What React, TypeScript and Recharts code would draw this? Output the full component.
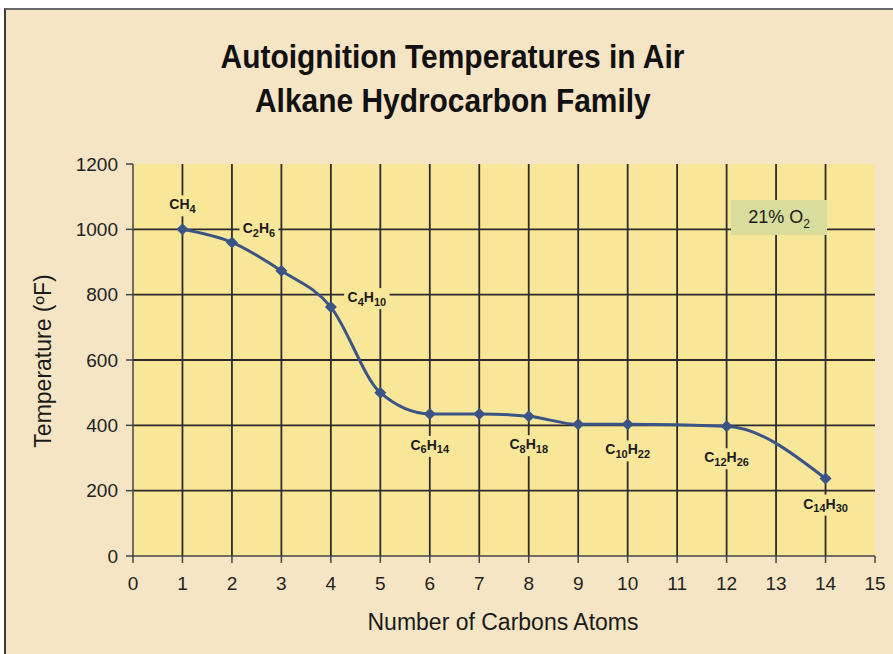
import { LineChart, Line, XAxis, YAxis, CartesianGrid, LabelList } from "recharts";

// carbon count vs autoignition temperature (ºF)
const carbons = [1, 2, 3, 4, 5, 6, 7, 8, 9, 10, 12, 14];
const tempsF = [1000, 960, 873, 762, 500, 435, 435, 428, 403, 403, 397, 237];
const formulas = ["CH4", "C2H6", "", "C4H10", "", "C6H14", "", "C8H18", "", "C10H22", "C12H26", "C14H30"];

const xTicks = [0, 1, 2, 3, 4, 5, 6, 7, 8, 9, 10, 11, 12, 13, 14, 15];
const yTicks = [0, 200, 400, 600, 800, 1000, 1200];
const xGrid = [1, 2, 3, 4, 5, 6, 7, 8, 9, 10, 11, 12, 13, 14];
const yGrid = [200, 400, 600, 800, 1000];

const data = carbons.map((c, i) => ({ c, t: tempsF[i], formula: formulas[i] }));

const PAGE_BG = "#f5e5c4";
const PLOT_BG = "#f9e799";
const LINE = "#3b5486";
const INK = "#1a1a1a";
const SANS = "'Liberation Sans', Arial, sans-serif";

// where each formula label sits relative to its point
const placement: Record<string, { dx: number; dy: number }> = {
  CH4: { dx: 0, dy: -24 },
  C2H6: { dx: 27, dy: -13 },
  C4H10: { dx: 36, dy: -9 },
  C6H14: { dx: 0, dy: 32 },
  C8H18: { dx: 0, dy: 29 },
  C10H22: { dx: 0, dy: 26 },
  C12H26: { dx: 0, dy: 32 },
  C14H30: { dx: 0, dy: 26 },
};

function Formula({ text, size }: { text: string; size: number }) {
  const parts = text.split(/(\d+)/).filter(Boolean);
  const sub = Math.round(size * 0.75);
  let shifted = false;
  return (
    <>
      {parts.map((p, i) => {
        const isNum = /^\d+$/.test(p);
        let dy = 0;
        if (isNum && !shifted) { dy = size * 0.25; shifted = true; }
        else if (!isNum && shifted) { dy = -size * 0.25; shifted = false; }
        return (
          <tspan key={i} dy={dy} fontSize={isNum ? sub : size}>
            {p}
          </tspan>
        );
      })}
    </>
  );
}

function FormulaLabel(props: any) {
  const { x, y, value } = props;
  if (!value) return null;
  const p = placement[value] || { dx: 0, dy: 0 };
  const cx = x + p.dx;
  const cy = y + p.dy;
  const w = value.replace(/\d/g, "").length * 11 + (value.match(/\d/g) || []).length * 6.5 + 4;
  return (
    <g>
      <rect x={cx - w / 2} y={cy - 10} width={w} height={21} fill={PLOT_BG} />
      <text x={cx} y={cy + 4} textAnchor="middle" fontFamily={SANS} fontWeight="bold" fill={INK}>
        <Formula text={value} size={14} />
      </text>
    </g>
  );
}

function Diamond(props: any) {
  const { cx, cy } = props;
  const r = 6;
  return <polygon points={`${cx},${cy - r} ${cx + r},${cy} ${cx},${cy + r} ${cx - r},${cy}`} fill={LINE} />;
}

const condensed = (sx: number) => ({ display: "inline-block", transform: `scaleX(${sx})` });

export default function App() {
  return (
    <div style={{ position: "absolute", top: 0, left: 0, width: 893, height: 654, background: "#fff" }}>
      <div
        style={{
          position: "absolute", left: 4, top: 8, width: 889, height: 646, background: PAGE_BG,
          borderLeft: "2px solid #3a3a3a", borderTop: "2px solid #6a6a6a", boxSizing: "border-box",
        }}
      />
      <div style={{ position: "absolute", left: 0, top: 0 }}>
        <LineChart width={893} height={654} data={data} margin={{ top: 164, right: 18, bottom: 68, left: 73 }}>
          <CartesianGrid
            fill={PLOT_BG}
            stroke="#2b2b2b"
            strokeWidth={1.8}
            horizontalValues={yGrid}
            verticalValues={xGrid}
          />
          <XAxis
            dataKey="c"
            type="number"
            domain={[0, 15]}
            ticks={xTicks}
            interval={0}
            height={30}
            tickSize={7}
            tickMargin={14}
            stroke="#444"
            strokeWidth={1.5}
            tick={{ fill: "#222", fontSize: 19, fontFamily: SANS }}
          />
          <YAxis
            dataKey="t"
            type="number"
            domain={[0, 1200]}
            ticks={yTicks}
            interval={0}
            width={60}
            tickSize={7}
            tickMargin={8}
            stroke="#444"
            strokeWidth={1.5}
            tick={{ fill: "#222", fontSize: 19, fontFamily: SANS }}
          />
          <Line
            dataKey="t"
            type="monotone"
            stroke={LINE}
            strokeWidth={3}
            dot={<Diamond />}
            activeDot={false}
            isAnimationActive={false}
          >
            <LabelList dataKey="formula" content={FormulaLabel} />
          </Line>
        </LineChart>
      </div>

      <div
        style={{
          position: "absolute", top: 34, left: 0, width: 906, textAlign: "center",
          fontFamily: SANS, fontWeight: "bold", fontSize: 34, lineHeight: "44px", color: "#111",
        }}
      >
        <span style={condensed(0.88)}>Autoignition Temperatures in Air</span>
        <br />
        <span style={condensed(0.88)}>Alkane Hydrocarbon Family</span>
      </div>

      <div
        style={{
          position: "absolute", left: 731, top: 200, width: 96, height: 35, background: "#d8dc9c",
          fontFamily: SANS, fontSize: 18, color: INK, lineHeight: "35px", textAlign: "center",
        }}
      >
        21% O<sub style={{ fontSize: 12 }}>2</sub>
      </div>

      <div
        style={{
          position: "absolute", left: 43, top: 361, transform: "translate(-50%, -50%) rotate(-90deg)",
          whiteSpace: "nowrap", fontFamily: SANS, fontSize: 23, color: INK,
        }}
      >
        Temperature (ºF)
      </div>

      <div
        style={{
          position: "absolute", left: 503, top: 622, transform: "translate(-50%, -50%)",
          whiteSpace: "nowrap", fontFamily: SANS, fontSize: 23, color: INK,
        }}
      >
        Number of Carbons Atoms
      </div>
    </div>
  );
}
